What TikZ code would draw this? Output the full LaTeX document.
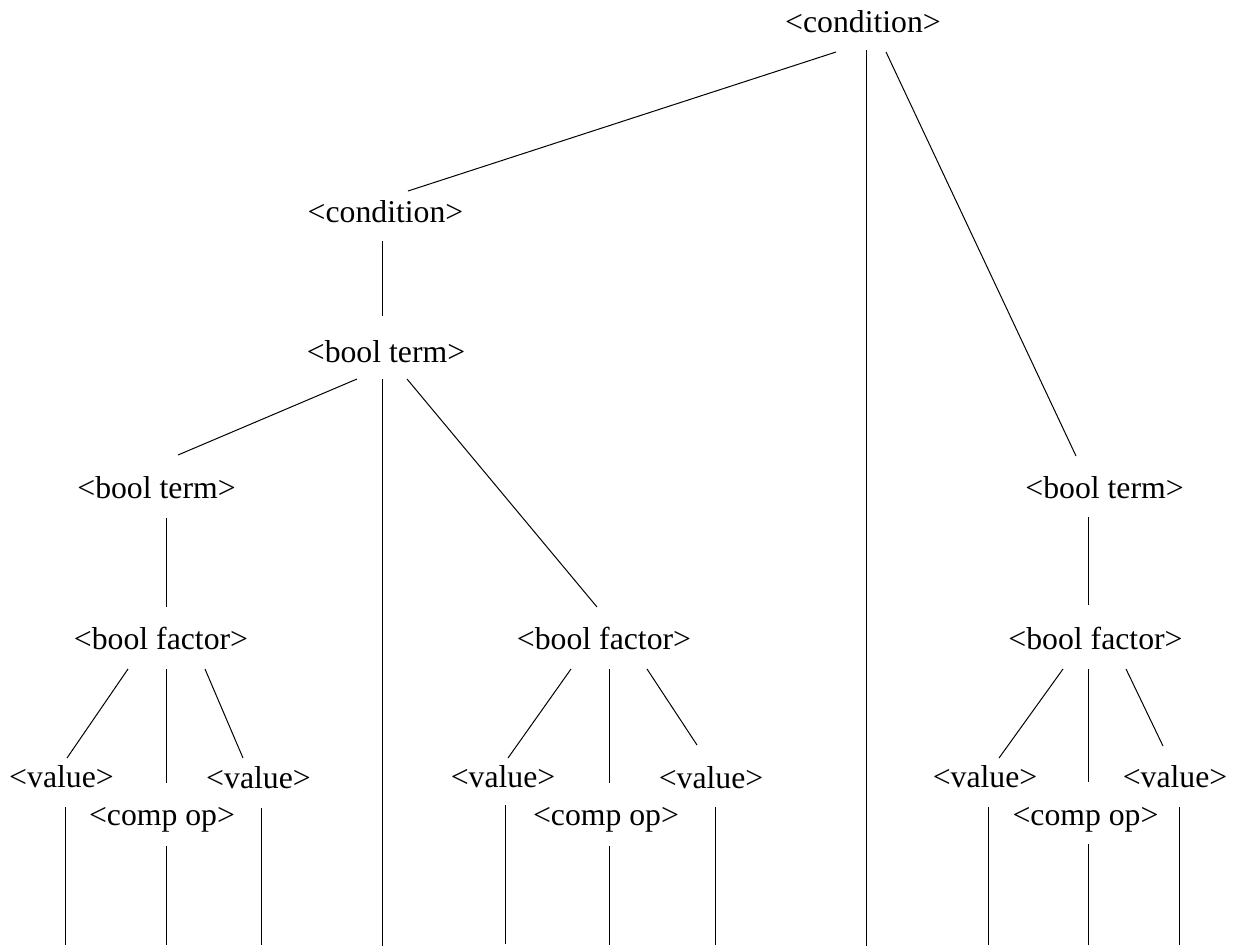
\documentclass[tikz,border=0pt]{standalone}
\usepackage{fontspec}
\setmainfont{Liberation Serif}
\begin{document}
\begin{tikzpicture}[x=0.75pt,y=-0.75pt,
  lbl/.style={anchor=base,inner sep=0pt,font=\fontsize{23.8}{28}\selectfont},
  edge/.style={line width=0.75pt,black}]
\useasboundingbox (0,0) rectangle (1237,947);
% labels
\node[lbl] (cond) at (863,32) {<condition>};
\node[lbl] (condB) at (385.5,222) {<condition>};
\node[lbl] (btM) at (386,362) {<bool term>};
\node[lbl] (btL) at (156.5,498) {<bool term>};
\node[lbl] (btR) at (1104.5,498) {<bool term>};
\node[lbl] (bfL) at (161,649) {<bool factor>};
\node[lbl] (bfM) at (604,649) {<bool factor>};
\node[lbl] (bfR) at (1095.5,649) {<bool factor>};
\node[lbl] (vL1) at (61.5,787) {<value>};
\node[lbl] (vL2) at (258.5,788) {<value>};
\node[lbl] (cL) at (162,825) {<comp op>};
\node[lbl] (vM1) at (503,787) {<value>};
\node[lbl] (vM2) at (711,788) {<value>};
\node[lbl] (cM) at (606,825) {<comp op>};
\node[lbl] (vR1) at (985,787) {<value>};
\node[lbl] (vR2) at (1175,787) {<value>};
\node[lbl] (cR) at (1085.5,825) {<comp op>};
% line ends
\coordinate (a1) at (836,52);   \coordinate (b1) at (408,191);
\coordinate (a2) at (866,50);   \coordinate (b2) at (866,946);
\coordinate (a3) at (886,52);   \coordinate (b3) at (1076,456);
\coordinate (a4) at (382,241);  \coordinate (b4) at (382,316);
\coordinate (a5) at (357,379);  \coordinate (b5) at (178,455);
\coordinate (a6) at (382,379);  \coordinate (b6) at (382,946);
\coordinate (a7) at (407,379);  \coordinate (b7) at (597,607);
\coordinate (a8) at (166,518);  \coordinate (b8) at (166,607);
\coordinate (a9) at (128,669);  \coordinate (b9) at (67,758);
\coordinate (a10) at (166,669); \coordinate (b10) at (166,783);
\coordinate (a11) at (205,669); \coordinate (b11) at (243,758);
\coordinate (a12) at (65,807);  \coordinate (b12) at (65,945);
\coordinate (a13) at (166,846); \coordinate (b13) at (166,945);
\coordinate (a14) at (261,808); \coordinate (b14) at (261,945);
\coordinate (a15) at (571,669); \coordinate (b15) at (508,758);
\coordinate (a16) at (609,669); \coordinate (b16) at (609,783);
\coordinate (a17) at (647,669); \coordinate (b17) at (697,745);
\coordinate (a18) at (505,805); \coordinate (b18) at (505,944);
\coordinate (a19) at (609,846); \coordinate (b19) at (609,945);
\coordinate (a20) at (715,807); \coordinate (b20) at (715,945);
\coordinate (a21) at (1088,517); \coordinate (b21) at (1088,605);
\coordinate (a22) at (1063,669); \coordinate (b22) at (999,758);
\coordinate (a23) at (1088,669); \coordinate (b23) at (1088,782);
\coordinate (a24) at (1126,669); \coordinate (b24) at (1163,746);
\coordinate (a25) at (988,807);  \coordinate (b25) at (988,945);
\coordinate (a26) at (1088,844); \coordinate (b26) at (1088,945);
\coordinate (a27) at (1179,807); \coordinate (b27) at (1179,945);
\foreach \i in {1,...,27} { \draw[edge] (a\i) -- (b\i); }
\end{tikzpicture}
\end{document}
